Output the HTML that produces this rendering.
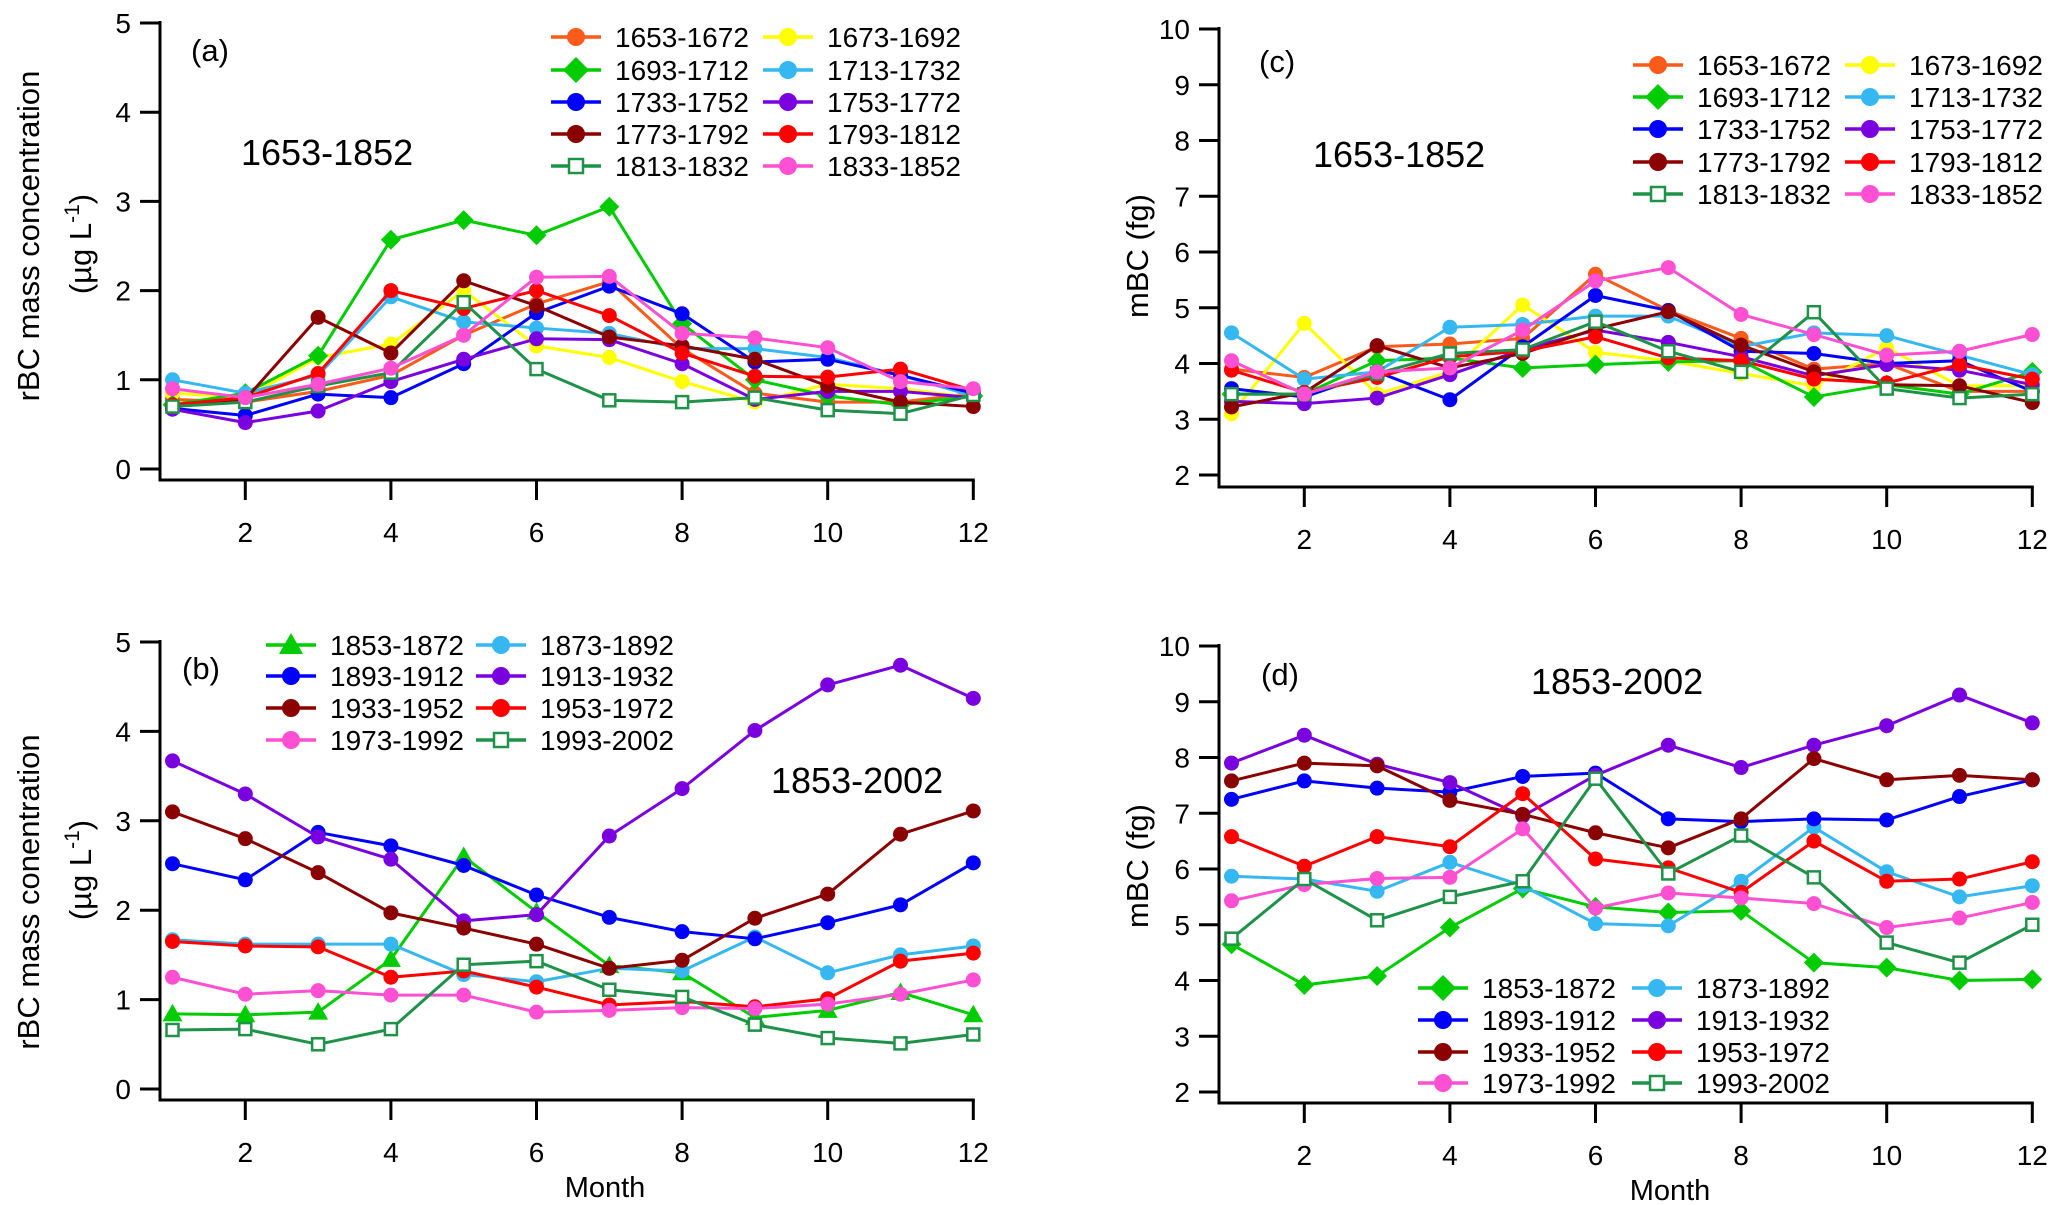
<!DOCTYPE html>
<html><head><meta charset="utf-8"><style>
html,body{margin:0;padding:0;background:#fff;}
svg{display:block;font-family:"Liberation Sans",Arial,sans-serif;}
</style></head><body>
<svg id="fig" width="2067" height="1205" viewBox="0 0 2067 1205" xmlns="http://www.w3.org/2000/svg"></svg>
<script>
const months=[1,2,3,4,5,6,7,8,9,10,11,12];
const colOrange="#fa5a1a",colYellow="#ffff00",colGreen="#00cc00",colLB="#35b8f2",colBlue="#0000ff",colPurple="#7a00e0",colDR="#8b0000",colRed="#ff0000",colDG="#1e9248",colPink="#ff4fd2";
// Panel a
const aNames=["1653-1672","1673-1692","1693-1712","1713-1732","1733-1752","1753-1772","1773-1792","1793-1812","1813-1832","1833-1852"];
const a1=[0.78,0.75,0.87,1.05,1.5,1.85,2.1,1.35,0.85,0.75,0.75,0.85];
const a2=[0.85,0.8,1.25,1.4,2.0,1.38,1.25,0.98,0.75,0.95,0.9,0.8];
const a3=[0.72,0.85,1.27,2.57,2.79,2.62,2.94,1.63,1.0,0.82,0.72,0.82];
const a4=[1.0,0.85,1.05,1.93,1.65,1.58,1.52,1.35,1.35,1.25,1.05,0.82];
const a5=[0.68,0.6,0.84,0.8,1.18,1.75,2.05,1.74,1.2,1.23,1.05,0.85];
const a6=[0.67,0.52,0.65,0.98,1.23,1.46,1.45,1.18,0.78,0.87,0.87,0.8];
const a7=[0.7,0.78,1.7,1.3,2.11,1.83,1.48,1.38,1.23,0.93,0.75,0.7];
const a8=[0.72,0.8,1.07,2.0,1.8,2.0,1.72,1.3,1.04,1.03,1.12,0.88];
const a9=[0.7,0.75,0.93,1.08,1.87,1.12,0.77,0.75,0.8,0.66,0.62,0.83];
const a10=[0.9,0.8,0.95,1.13,1.5,2.15,2.16,1.52,1.47,1.36,0.98,0.9];
// Panel b
const bNames=["1853-1872","1873-1892","1893-1912","1913-1932","1933-1952","1953-1972","1973-1992","1993-2002"];
const b1=[0.84,0.83,0.86,1.45,2.6,1.98,1.38,1.3,0.8,0.88,1.08,0.83];
const b2=[1.67,1.62,1.62,1.62,1.28,1.2,1.35,1.32,1.7,1.3,1.5,1.6];
const b3=[2.52,2.34,2.87,2.72,2.5,2.17,1.92,1.76,1.68,1.86,2.06,2.53];
const b4=[3.67,3.3,2.82,2.57,1.88,1.95,2.83,3.36,4.01,4.52,4.74,4.37];
const b5=[3.1,2.8,2.42,1.97,1.8,1.62,1.35,1.44,1.91,2.18,2.85,3.11];
const b6=[1.65,1.6,1.59,1.25,1.32,1.14,0.94,0.98,0.92,1.01,1.43,1.52];
const b7=[1.25,1.06,1.1,1.05,1.05,0.86,0.88,0.91,0.9,0.95,1.06,1.22];
const b8=[0.66,0.67,0.5,0.67,1.39,1.43,1.11,1.03,0.72,0.57,0.51,0.61];
// Panel c
const c1=[3.9,3.75,4.3,4.35,4.45,5.6,4.95,4.45,3.9,4.0,3.5,3.5];
const c2=[3.1,4.72,3.45,3.85,5.05,4.2,4.05,3.82,3.6,4.28,3.6,3.6];
const c3=[3.45,3.45,4.05,4.1,3.92,3.98,4.03,4.05,3.4,3.62,3.45,3.85];
const c4=[4.55,3.72,3.85,4.65,4.7,4.85,4.85,4.3,4.55,4.5,4.15,3.8];
const c5=[3.55,3.4,3.85,3.35,4.3,5.22,4.95,4.22,4.18,4.0,4.05,3.5];
const c6=[3.32,3.28,3.38,3.8,4.25,4.6,4.38,4.12,3.78,3.98,3.88,3.62];
const c7=[3.22,3.48,4.32,3.92,4.18,4.62,4.93,4.33,3.85,3.62,3.6,3.3];
const c8=[3.88,3.48,3.75,4.12,4.22,4.48,4.1,4.05,3.72,3.65,3.98,3.72];
const c9=[3.45,3.45,3.82,4.18,4.25,4.75,4.22,3.85,4.92,3.55,3.38,3.45];
const c10=[4.05,3.45,3.85,3.92,4.6,5.48,5.72,4.88,4.52,4.15,4.22,4.52];
// Panel d
const d1=[4.65,3.92,4.08,4.95,5.65,5.32,5.22,5.25,4.32,4.23,4.0,4.02];
const d2=[5.87,5.82,5.6,6.12,5.7,5.02,4.98,5.78,6.75,5.95,5.5,5.7];
const d3=[7.25,7.58,7.45,7.38,7.66,7.72,6.9,6.85,6.9,6.88,7.3,7.6];
const d4=[7.9,8.4,7.88,7.55,6.95,7.68,8.22,7.82,8.22,8.57,9.12,8.62];
const d5=[7.58,7.9,7.85,7.23,6.98,6.65,6.38,6.9,7.98,7.6,7.68,7.6];
const d6=[6.58,6.05,6.58,6.4,7.35,6.18,6.02,5.58,6.5,5.78,5.82,6.13];
const d7=[5.43,5.72,5.83,5.85,6.72,5.3,5.57,5.48,5.38,4.95,5.12,5.4];
const d8=[4.75,5.82,5.08,5.5,5.78,7.62,5.92,6.6,5.85,4.68,4.32,5.0];
const xTicks=[2,4,6,8,10,12];
const yTicksA=[0,1,2,3,4,5];
const yTicksC=[2,3,4,5,6,7,8,9,10];

const NS="http://www.w3.org/2000/svg";
const svg=document.getElementById('fig');
function mk(parent,tag,attrs,txt){const e=document.createElementNS(NS,tag);for(const k in attrs)e.setAttribute(k,attrs[k]);if(txt!==undefined)e.textContent=txt;parent.appendChild(e);return e;}

function marker(g,shape,x,y,color,big){
  let e;const r=big?9:7.5;
  if(shape==='diamond'){const s=big?13:10;e=mk(g,'polygon',{points:`${x},${y-s} ${x+s},${y} ${x},${y+s} ${x-s},${y}`,fill:color});}
  else if(shape==='tri'){const s=big?12:10;e=mk(g,'polygon',{points:`${x},${y-s} ${x+s},${y+s*0.75} ${x-s},${y+s*0.75}`,fill:color});}
  else if(shape==='square'){const s=big?7:6;e=mk(g,'rect',{x:x-s,y:y-s,width:2*s,height:2*s,fill:'#fff',stroke:color,'stroke-width':2.5});}
  else{e=mk(g,'circle',{cx:x,cy:y,r:r,fill:color});}
  return e;
}

function panel(cfg){
  const g=mk(svg,'g',{});
  
  
  const xs=m=>cfg.x1+(m-1)*cfg.dx;
  const ys=v=>cfg.yTop+(cfg.yMax-v)*(cfg.yBot-cfg.yTop)/(cfg.yMax-cfg.yMin);
  const ya=mk(g,'line',{x1:cfg.ax,y1:ys(cfg.yMax)-2,x2:cfg.ax,y2:cfg.axY,stroke:'#000','stroke-width':3});
  
  
  const xa=mk(g,'line',{x1:cfg.ax-1.5,y1:cfg.axY,x2:xs(12)+1.5,y2:cfg.axY,stroke:'#000','stroke-width':3});
  
  
  cfg.yTicks.forEach(t=>{
    const tk=mk(g,'line',{x1:cfg.ax-20,y1:ys(t),x2:cfg.ax,y2:ys(t),stroke:'#000','stroke-width':3});
    
    
    const tl=mk(g,'text',{x:cfg.ax-29,y:ys(t)+10,'font-size':28,'text-anchor':'end',fill:'#000'},String(t));
    
    
  });
  xTicks.forEach(t=>{
    const tk=mk(g,'line',{x1:xs(t),y1:cfg.axY,x2:xs(t),y2:cfg.axY+20,stroke:'#000','stroke-width':3});
    
    
    const tl=mk(g,'text',{x:xs(t),y:cfg.axY+62,'font-size':28,'text-anchor':'middle',fill:'#000'},String(t));
    
    
  });
  if(cfg.month){
    const mt=mk(g,'text',{x:cfg.monthX,y:cfg.axY+97,'font-size':29,'text-anchor':'middle',fill:'#000'},'Month');
    
    
  }
  const yt=mk(g,'text',{x:cfg.ylx,y:cfg.yly,'font-size':31,'text-anchor':'middle',fill:'#000',transform:`rotate(-90 ${cfg.ylx} ${cfg.yly})`},cfg.ylabel);
  
  
  if(cfg.ylabel2){
    const x2=cfg.ylx+52;
    const y2=mk(g,'text',{x:x2,y:cfg.yly2,'font-size':31,'text-anchor':'middle',fill:'#000',transform:`rotate(-90 ${x2} ${cfg.yly2})`});
    
    
    mk(y2,'tspan',{},'(µg L');
    mk(y2,'tspan',{dy:-12,'font-size':21},'-1');
    mk(y2,'tspan',{dy:12},')');
  }
  const pl=mk(g,'text',{x:cfg.plx,y:cfg.ply,'font-size':31,fill:'#000'},cfg.plabel);
  
  
  const an=mk(g,'text',{x:cfg.anx,y:cfg.any,'font-size':36,fill:'#000'},cfg.ann);
  
  
  cfg.series.forEach(s=>{
    const sg=mk(g,'g',{});
    
    
    const pts=months.map((m,i)=>xs(m)+','+ys(s.vals[i])).join(' ');
    const ln=mk(sg,'polyline',{points:pts,fill:'none',stroke:s.color,'stroke-width':3,'stroke-linejoin':'round'});
    
    
    months.forEach((m,i)=>{
      const mkr=marker(sg,s.shape,xs(m),ys(s.vals[i]),s.color,false);
      
      
    });
  });
  const lg=mk(g,'g',{});
  
  
  cfg.series.forEach((s,i)=>{
    const col=i%2,row=Math.floor(i/2);
    const lx=cfg.legX[col],ly=cfg.legY[row];
    const eg=mk(lg,'g',{});
    
    
    mk(eg,'line',{x1:lx,y1:ly,x2:lx+50,y2:ly,stroke:s.color,'stroke-width':3.5});
    marker(eg,s.shape,lx+25,ly,s.color,true);
    const t=mk(eg,'text',{x:lx+64,y:ly+10,'font-size':28,fill:'#000'},s.name);
    
    
  });
}
function S(name,vals,color,shape){return {name,vals,color,shape};}
const aCols=[colOrange,colYellow,colGreen,colLB,colBlue,colPurple,colDR,colRed,colDG,colPink];
const aShapes=['circle','circle','diamond','circle','circle','circle','circle','circle','square','circle'];
const bCols=[colGreen,colLB,colBlue,colPurple,colDR,colRed,colPink,colDG];
const aVals=[a1,a2,a3,a4,a5,a6,a7,a8,a9,a10];
const cVals=[c1,c2,c3,c4,c5,c6,c7,c8,c9,c10];
const bVals=[b1,b2,b3,b4,b5,b6,b7,b8];
const dVals=[d1,d2,d3,d4,d5,d6,d7,d8];

panel({id:'panel-a',x1:172.5,dx:72.8,yMin:0,yMax:5,yTop:23,yBot:469,ax:160,axY:480,yTicks:yTicksA,
  ylabel:'rBC mass concentration',ylabel2:true,ylx:39,yly:236,yly2:244,plabel:'(a)',plx:191,ply:61,ann:'1653-1852',anx:241,any:165,
  series:aVals.map((v,i)=>S(aNames[i],v,aCols[i],aShapes[i])),legX:[551,763],legY:[37,70,102,134,166]});
panel({id:'panel-b',x1:172.5,dx:72.8,yMin:0,yMax:5,yTop:642,yBot:1089,ax:160,axY:1100,yTicks:yTicksA,month:true,monthX:605,
  ylabel:'rBC mass conentration',ylabel2:true,ylx:39,yly:892,yly2:870,plabel:'(b)',plx:182,ply:679,ann:'1853-2002',anx:771,any:793,
  series:bVals.map((v,i)=>S(bNames[i],v,bCols[i],i===0?'tri':(i===7?'square':'circle'))),legX:[266,476],legY:[645,676,708,740]});
panel({id:'panel-c',x1:1231.5,dx:72.8,yMin:2,yMax:10,yTop:29,yBot:475,ax:1219,axY:487,yTicks:yTicksC,
  ylabel:'mBC (fg)',ylx:1148,yly:256,plabel:'(c)',plx:1259,ply:72,ann:'1653-1852',anx:1313,any:167,
  series:cVals.map((v,i)=>S(aNames[i],v,aCols[i],aShapes[i])),legX:[1633,1845],legY:[65,97,129,162,194]});
panel({id:'panel-d',x1:1231.5,dx:72.8,yMin:2,yMax:10,yTop:646,yBot:1092,ax:1219,axY:1103,yTicks:yTicksC,month:true,monthX:1670,
  ylabel:'mBC (fg)',ylx:1148,yly:866,plabel:'(d)',plx:1261,ply:685,ann:'1853-2002',anx:1531,any:694,
  series:dVals.map((v,i)=>S(bNames[i],v,bCols[i],i===0?'diamond':(i===7?'square':'circle'))),legX:[1418,1632],legY:[988,1020,1052,1083]});
</script>
</body></html>
